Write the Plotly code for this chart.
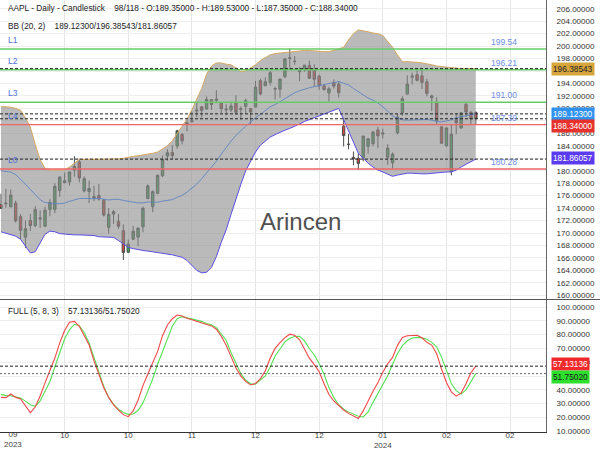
import plotly.graph_objects as go

# ---------------- data ----------------
opens = [174.55, 174.67, 174.20, 174.82, 172.62, 169.34, 172.02, 171.22, 172.26, 171.09,
         173.79, 173.80, 176.81, 178.10, 178.20, 180.07, 181.42, 176.75, 176.65, 175.58,
         176.04, 175.31, 170.91, 173.05, 171.88, 170.37, 166.91, 169.02, 169.35, 171.00,
         175.52, 174.24, 176.38, 179.18, 182.35, 182.96, 183.97, 185.82, 187.70, 187.85,
         189.57, 190.25, 189.89, 191.41, 191.49, 190.87, 189.92, 189.78, 190.90, 189.84,
         190.33, 189.98, 190.21, 194.45, 193.63, 194.20, 193.11, 193.08, 195.09, 198.02,
         197.53, 196.09, 196.16, 196.90, 196.10, 195.18, 193.61, 192.49, 194.14, 193.90,
         187.15, 184.22, 182.15, 181.99, 182.09, 183.92, 184.35, 186.54, 186.06, 182.16,
         181.27, 186.09, 189.33, 192.30, 195.02, 195.42, 195.22, 194.27, 192.01, 190.94,
         187.04, 183.99, 179.86, 188.15, 186.86, 190.64, 189.39, 189.35]
highs = [176.30, 177.08, 176.97, 175.20, 173.04, 172.03, 173.07, 174.30, 173.63, 174.21,
         175.45, 177.99, 179.05, 179.72, 179.85, 182.34, 181.93, 179.08, 178.42, 177.58,
         177.84, 175.42, 174.01, 173.67, 173.06, 171.38, 168.96, 171.17, 170.90, 174.23,
         177.78, 176.82, 179.43, 182.44, 183.45, 184.12, 186.57, 186.03, 188.11, 189.50,
         190.96, 190.38, 191.91, 191.52, 192.93, 190.90, 190.67, 191.08, 192.09, 190.32,
         191.56, 190.05, 194.40, 194.76, 195.00, 195.99, 193.49, 194.72, 198.00, 199.62,
         198.40, 196.63, 196.95, 197.68, 197.08, 195.41, 193.89, 193.50, 194.66, 194.40,
         188.44, 185.88, 183.09, 182.76, 185.60, 185.15, 186.40, 187.05, 186.74, 184.26,
         182.93, 189.14, 191.95, 195.33, 195.75, 196.38, 196.27, 194.76, 192.20, 191.80,
         187.10, 186.95, 187.33, 189.25, 189.31, 191.05, 189.54, 189.53]
lows = [173.86, 174.05, 174.15, 171.66, 169.05, 167.62, 170.34, 170.93, 170.82, 170.97,
        172.68, 173.18, 175.80, 177.95, 177.60, 179.04, 178.14, 176.51, 174.80, 175.11,
        175.19, 172.64, 169.93, 171.45, 170.65, 165.67, 166.83, 168.87, 167.90, 170.12,
        175.46, 173.35, 176.21, 178.97, 181.59, 181.81, 183.53, 184.21, 186.30, 187.78,
        188.65, 188.57, 189.88, 189.74, 190.83, 189.25, 188.90, 189.40, 188.97, 188.19,
        189.23, 187.45, 190.18, 192.11, 193.59, 193.67, 191.42, 191.72, 194.85, 196.16,
        197.00, 194.39, 195.89, 194.83, 193.50, 192.97, 192.83, 191.09, 193.17, 191.73,
        183.89, 183.43, 180.88, 180.17, 181.50, 182.73, 183.92, 183.62, 185.19, 180.93,
        180.30, 185.83, 188.82, 192.26, 193.83, 194.34, 193.11, 191.94, 189.58, 187.47,
        184.35, 183.82, 179.25, 185.84, 186.77, 188.61, 187.35, 187.35]
closes = [173.93, 174.79, 176.08, 171.96, 170.43, 170.69, 171.21, 173.75, 172.40, 173.66,
          174.91, 177.49, 178.99, 178.39, 179.80, 180.71, 178.85, 178.72, 177.15, 175.84,
          175.46, 172.88, 173.00, 173.44, 171.10, 166.89, 168.22, 170.29, 170.77, 173.97,
          177.57, 176.65, 179.23, 181.82, 182.89, 182.41, 186.40, 184.80, 187.44, 188.01,
          189.71, 189.69, 191.45, 190.64, 191.31, 189.97, 189.79, 190.40, 189.37, 189.95,
          191.24, 189.43, 193.42, 192.32, 194.27, 195.71, 193.18, 194.71, 197.96, 198.11,
          197.57, 195.89, 196.94, 194.83, 194.68, 193.60, 193.05, 193.15, 193.58, 192.53,
          185.64, 184.25, 181.91, 181.18, 185.56, 185.14, 186.19, 185.59, 185.92, 183.63,
          182.68, 188.63, 191.56, 193.89, 195.18, 194.50, 194.17, 192.42, 191.73, 188.04,
          184.40, 186.86, 185.85, 187.68, 189.30, 189.41, 188.32, 188.34]

bb_upper = [190.3, 190.3, 190.2, 190.0, 189.7, 188.5, 187.0, 184.2, 181.8, 180.4,
            180.1, 180.1, 180.1, 180.1, 180.6, 181.2, 181.8, 181.8, 181.8, 181.8,
            181.8, 181.8, 181.8, 181.8, 181.9, 182.0, 182.2, 182.3, 182.4, 182.5,
            182.6, 182.8, 183.0, 183.5, 184.0, 184.8, 186.0, 187.2, 188.3, 189.8,
            191.5, 193.2, 195.5, 196.8, 197.3, 197.3, 197.1, 197.0, 196.5, 195.9,
            196.0, 196.5, 197.0, 197.7, 198.2, 198.6, 198.8, 198.9, 199.0, 199.1,
            199.2, 199.2, 199.3, 199.3, 199.2, 199.1, 199.1, 199.1, 199.3, 199.5,
            199.8, 201.0, 202.0, 202.6, 202.5, 202.3, 202.1, 202.0, 201.7, 200.8,
            199.8, 198.6, 197.5, 197.5, 197.5, 197.4, 197.3, 197.2, 197.0, 196.8,
            196.7, 196.6, 196.5, 196.5, 196.4, 196.4, 196.4, 196.38543]
bb_mid = [179.99, 179.91, 179.78, 179.37, 178.68, 177.84, 177.00, 176.22, 175.35, 174.89,
          174.76, 174.72, 174.70, 174.81, 175.09, 175.34, 175.53, 175.57, 175.47, 175.49,
          175.56, 175.47, 175.31, 175.39, 175.42, 175.23, 175.08, 174.91, 174.83, 174.84,
          174.98, 174.93, 174.95, 175.12, 175.27, 175.36, 175.74, 176.04, 176.55, 177.16,
          177.87, 178.72, 179.64, 180.50, 181.51, 182.66, 183.74, 184.75, 185.68, 186.48,
          187.16, 187.80, 188.51, 189.03, 189.60, 190.27, 190.61, 191.10, 191.63, 192.13,
          192.52, 192.83, 193.11, 193.32, 193.49, 193.67, 193.83, 193.97, 194.18, 194.31,
          194.03, 193.77, 193.19, 192.64, 192.20, 191.67, 191.32, 190.87, 190.27, 189.54,
          188.80, 188.43, 188.17, 188.12, 188.14, 188.19, 188.24, 188.21, 188.12, 187.89,
          187.83, 187.96, 188.16, 188.48, 188.67, 188.88, 188.99, 189.123]
bb_lower = [170.2, 170.0, 169.8, 169.5, 169.0, 167.8, 166.8, 167.0, 168.5, 169.8,
            170.3, 170.2, 169.9, 169.8, 169.7, 169.7, 169.7, 169.7, 169.7, 169.6,
            169.4, 169.4, 169.4, 169.3, 168.8, 168.2, 167.7, 167.5, 167.3, 167.2,
            167.1, 167.0, 166.9, 166.8, 166.7, 166.5, 166.3, 166.1, 165.6, 164.8,
            164.0, 163.6, 163.7, 164.5, 166.2, 168.5, 170.5, 173.0, 175.5, 177.8,
            180.0, 181.5, 183.0, 184.1, 184.8, 185.4, 185.8, 186.2, 186.5, 186.8,
            187.1, 187.5, 187.9, 188.2, 188.5, 188.8, 189.1, 189.4, 189.7, 190.0,
            188.2, 186.3, 184.4, 182.8, 182.0, 181.2, 180.6, 180.1, 179.8, 179.4,
            179.1, 179.3, 179.5, 179.6, 179.6, 179.5, 179.5, 179.5, 179.6, 179.7,
            179.7, 179.8, 179.8, 180.1, 180.6, 181.0, 181.4, 181.86057]

stoch_k = [34.5, 34.3, 37.0, 34.5, 33.4, 28.5, 23.5, 27.5, 35.5, 45.0,
           53.5, 63.0, 74.0, 83.0, 89.0, 89.6, 86.0, 79.5, 72.5, 61.0,
           50.5, 41.5, 34.5, 29.0, 25.2, 22.0, 20.5, 24.7, 32.4, 43.0,
           51.5, 59.5, 67.8, 79.2, 87.0, 91.5, 94.2, 93.5, 91.8, 90.8,
           89.8, 88.7, 87.6, 86.3, 83.9, 78.8, 72.3, 63.9, 55.9, 49.9,
           46.1, 43.5, 44.6, 48.0, 53.7, 63.0, 70.0, 74.2, 77.8, 80.3,
           79.5, 76.2, 69.9, 62.9, 58.2, 53.1, 44.4, 36.6, 31.9, 28.4,
           25.4, 22.9, 20.9, 19.2, 24.7, 32.1, 38.9, 45.2, 52.7, 58.9,
           63.5, 72.2, 77.9, 79.2, 79.4, 79.5, 77.7, 74.4, 72.4, 66.2,
           55.1, 45.3, 38.5, 35.4, 37.6, 44.4, 52.4, 57.13136]
stoch_d = [36.7, 35.8, 35.7, 34.6, 34.0, 31.8, 29.2, 28.0, 32.0, 39.0,
           46.0, 56.5, 67.5, 77.0, 83.5, 87.5, 86.5, 81.5, 74.0, 63.5,
           51.5, 42.5, 34.5, 29.5, 26.0, 23.5, 22.2, 22.5, 25.0, 30.5,
           39.0, 48.0, 58.5, 67.5, 77.0, 86.0, 91.6, 93.0, 92.1, 91.4,
           90.6, 89.6, 88.0, 87.1, 85.1, 80.8, 75.9, 67.0, 59.8, 51.7,
           46.9, 44.4, 44.0, 46.7, 50.0, 56.6, 64.5, 69.6, 74.7, 77.3,
           78.6, 78.8, 75.4, 69.9, 65.2, 59.0, 51.3, 41.6, 34.3, 29.2,
           25.9, 24.0, 22.4, 20.8, 20.3, 24.0, 30.9, 37.3, 44.0, 50.1,
           58.5, 66.3, 72.0, 75.5, 77.6, 78.0, 77.6, 76.6, 74.4, 71.2,
           63.7, 53.8, 44.5, 39.4, 36.9, 40.0, 45.6, 51.7502]

tick_index = [0, 13, 26, 39, 52, 65, 78, 91, 104]
tick_labels = ["09<br>2023", "10", "10", "11", "12", "12", "01<br>2024", "02", "02"]

price_ticks = list(range(160, 208, 2))
osc_ticks = list(range(10, 101, 10))

level_names = ["L1", "L2", "L3", "L4", "L0"]
level_values = [199.54, 196.21, 191.00, 187.39, 180.28]
level_colors = ["#66cc66", "#66cc66", "#66cc66", "#ee6666", "#ee6666"]

# ---------------- figure ----------------
FONT = "Liberation Sans, Arial, sans-serif"
W, H = 600, 450
ML, MR, MT, MB = 0, 54, 0, 18
PH = H - MT - MB           # plot height in px
PW = W - ML - MR


def py(p):
    """pixel row (from top of plot) -> paper y"""
    return (PH - p) / PH


x = list(range(len(closes)))

fig = go.Figure()

# Bollinger band fill
fig.add_trace(go.Scatter(x=x, y=bb_lower, mode="lines", line=dict(width=0, color="rgba(0,0,0,0)"),
                         hoverinfo="skip", showlegend=False, xaxis="x", yaxis="y"))
fig.add_trace(go.Scatter(x=x, y=bb_upper, mode="lines", fill="tonexty",
                         fillcolor="rgba(140,140,140,0.6)",
                         line=dict(width=1, color="#d8a862"), hoverinfo="skip",
                         showlegend=False, xaxis="x", yaxis="y"))
fig.add_trace(go.Scatter(x=x, y=bb_lower, mode="lines", line=dict(width=1, color="#5b4ee6"),
                         hoverinfo="skip", showlegend=False, xaxis="x", yaxis="y"))
fig.add_trace(go.Scatter(x=x, y=bb_mid, mode="lines", line=dict(width=0.9, color="#5f84c0"),
                         hoverinfo="skip", showlegend=False, xaxis="x", yaxis="y"))

# candles
fig.add_trace(go.Candlestick(
    x=x, open=opens, high=highs, low=lows, close=closes,
    increasing=dict(fillcolor="#3aa957", line=dict(color="#4d4d4d", width=1)),
    decreasing=dict(fillcolor="#d9463f", line=dict(color="#4d4d4d", width=1)),
    whiskerwidth=0, showlegend=False, xaxis="x", yaxis="y"))

# stochastic
fig.add_trace(go.Scatter(x=x, y=stoch_d, mode="lines", line=dict(width=1.1, color="#55e055"),
                         showlegend=False, xaxis="x", yaxis="y2"))
fig.add_trace(go.Scatter(x=x, y=stoch_k, mode="lines", line=dict(width=1.1, color="#f04848"),
                         showlegend=False, xaxis="x", yaxis="y2"))

shapes = []
# level lines
for v, c in zip(level_values, level_colors):
    shapes.append(dict(type="line", xref="paper", x0=0, x1=1, yref="y", y0=v, y1=v,
                       line=dict(color=c, width=1.4), layer="above"))
# dashed current-value lines
for v in [bb_upper[-1], bb_mid[-1], closes[-1], bb_lower[-1]]:
    shapes.append(dict(type="line", xref="paper", x0=0, x1=1, yref="y", y0=v, y1=v,
                       line=dict(color="#222222", width=1, dash="3px,2px"), layer="above"))
shapes.append(dict(type="line", xref="paper", x0=0, x1=1, yref="y2", y0=stoch_k[-1], y1=stoch_k[-1],
                   line=dict(color="#222222", width=1, dash="3px,2px"), layer="above"))
shapes.append(dict(type="line", xref="paper", x0=0, x1=1, yref="y2", y0=stoch_d[-1], y1=stoch_d[-1],
                   line=dict(color="#666666", width=1, dash="2px,2px"), layer="above"))
# panel divider
shapes.append(dict(type="line", xref="paper", x0=0, x1=W / PW, yref="paper", y0=py(299.5), y1=py(299.5),
                   line=dict(color="#555555", width=1), layer="above"))

annotations = []
hdr_font = dict(family=FONT, size=8.3, color="#222222")
annotations.append(dict(
    text="AAPL - Daily - Candlestick\u00a0\u00a0\u00a0\u00a098/118 - O:%.5f - H:%.5f - L:%.5f - C:%.5f"
         % (opens[-1], highs[-1], lows[-1], closes[-1]),
    xref="paper", yref="paper", x=6 / PW, y=py(8), xanchor="left", yanchor="middle",
    showarrow=False, font=hdr_font))
annotations.append(dict(
    text="BB (20, 2)\u00a0\u00a0\u00a0\u00a0%.5f/%.5f/%.5f" % (bb_mid[-1], bb_upper[-1], bb_lower[-1]),
    xref="paper", yref="paper", x=6 / PW, y=py(26), xanchor="left", yanchor="middle",
    showarrow=False, font=hdr_font))
annotations.append(dict(
    text="FULL (5, 8, 3)\u00a0\u00a0\u00a0\u00a0%.5f/%.5f" % (stoch_k[-1], stoch_d[-1]),
    xref="paper", yref="paper", x=6 / PW, y=py(311), xanchor="left", yanchor="middle",
    showarrow=False, font=hdr_font))

# level labels
for name, v in zip(level_names, level_values):
    annotations.append(dict(text=name, xref="paper", yref="y", x=6 / PW, y=v,
                            xanchor="left", yanchor="bottom", yshift=2, showarrow=False,
                            font=dict(family=FONT, size=8.5, color="#4f6fd8")))
    annotations.append(dict(text="%.2f" % v, xref="paper", yref="y", x=504 / PW, y=v,
                            xanchor="center", yanchor="bottom", yshift=0, showarrow=False,
                            font=dict(family=FONT, size=8.5, color="#6d8de6")))

# right-axis value boxes
boxes = [
    (bb_upper[-1], "y", "#d6a53c", "#222222", 0),
    (bb_mid[-1], "y", "#2e92ee", "#ffffff", 0),
    (closes[-1], "y", "#e5322d", "#ffffff", -7),
    (bb_lower[-1], "y", "#5a3bf0", "#ffffff", 1),
    (stoch_k[-1], "y2", "#f02a2a", "#ffffff", 2),
    (stoch_d[-1], "y2", "#2ee02e", "#1a1a1a", -3),
]
for v, yr, bg, fc, ys in boxes:
    annotations.append(dict(text="%.5f" % v, xref="paper", yref=yr, x=1, y=v,
                            xanchor="left", yanchor="middle", xshift=5, yshift=ys,
                            showarrow=False, bgcolor=bg, borderpad=1,
                            font=dict(family=FONT, size=8.3, color=fc)))

# first x tick label (kept inside the page as in the reference)
annotations.append(dict(text=tick_labels[0], xref="x", yref="paper", x=tick_index[0], y=0,
                        xanchor="left", yanchor="top", xshift=1, yshift=4, showarrow=False,
                        align="center", font=dict(family=FONT, size=8, color="#444444")))

# watermark
annotations.append(dict(text="Arincen", xref="paper", yref="paper", x=300 / PW, y=py(222),
                        xanchor="center", yanchor="middle", showarrow=False,
                        font=dict(family=FONT, size=24, color="#505050")))

# tick labels hidden where the value boxes cover them
covered_price = {196, 188, 182}
covered_osc = {50}
price_text = ["" if t in covered_price else "%.5f" % t for t in price_ticks]
osc_text = ["" if t in covered_osc else "%.5f" % t for t in osc_ticks]
x_text = [""] + tick_labels[1:]

fig.update_layout(
    width=W, height=H,
    margin=dict(l=ML, r=MR, t=MT, b=MB, pad=0, autoexpand=False),
    paper_bgcolor="white", plot_bgcolor="white",
    showlegend=False,
    font=dict(family=FONT, size=8, color="#333333"),
    xaxis=dict(domain=[0, 1], anchor="y2", range=[-0.2, 111.34], automargin=False,
               tickmode="array", tickvals=tick_index, ticktext=x_text,
               showgrid=True, gridcolor="#e6e6e6", gridwidth=1, zeroline=False,
               showline=True, linecolor="#333333", linewidth=1, ticks="",
               ticklabelstandoff=-5,
               tickfont=dict(family=FONT, size=8, color="#444444"),
               rangeslider=dict(visible=False), fixedrange=True),
    yaxis=dict(domain=[py(299), 1], anchor="x", side="right", range=[159.41, 207.40],
               automargin=False,
               tickmode="array", tickvals=price_ticks, ticktext=price_text,
               showgrid=True, gridcolor="#eeeeee", zeroline=False,
               showline=True, linecolor="#666666", linewidth=1, ticks="",
               ticklabelstandoff=8,
               tickfont=dict(family=FONT, size=8, color="#333333")),
    yaxis2=dict(domain=[0, py(300)], anchor="x", side="right", range=[9.42, 105.07],
                automargin=False,
                tickmode="array", tickvals=osc_ticks, ticktext=osc_text,
                showgrid=True, gridcolor="#eeeeee", zeroline=False,
                showline=True, linecolor="#666666", linewidth=1, ticks="",
                ticklabelstandoff=8,
                tickfont=dict(family=FONT, size=8, color="#333333")),
    shapes=shapes,
    annotations=annotations,
)

fig.write_html("out.html")
